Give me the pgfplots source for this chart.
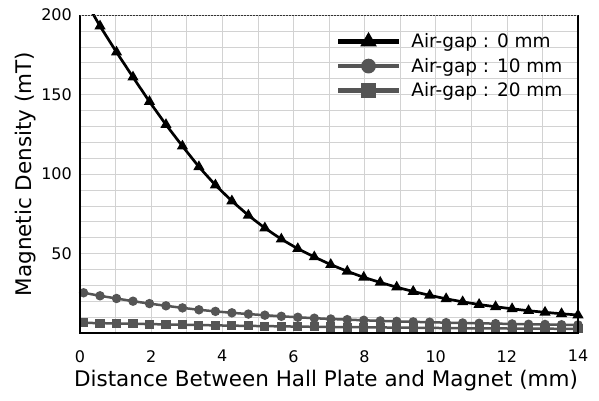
\documentclass[border=0pt]{standalone}
\usepackage{pgfplots}
\pgfplotsset{compat=1.18}
\usepackage{pgfplotstable}
\usepackage{fontspec}
\setmainfont{DejaVu Sans}
\definecolor{darkgr}{RGB}{85,85,85}
\pgfplotstableread{
x a b c
0.1 211 25.3 6.4
0.563 193 23.4 6.2
1.027 176.6 21.7 6.0
1.49 160.9 20.0 5.8
1.953 145.5 18.5 5.6
2.417 131 17.1 5.4
2.88 117.5 15.8 5.2
3.343 104.5 14.6 5.0
3.807 93 13.6 4.8
4.27 83 12.7 4.6
4.733 74 11.9 4.5
5.197 66 11.2 4.3
5.66 59 10.5 4.2
6.123 53 9.9 4.0
6.587 47.8 9.3 3.9
7.05 43 8.8 3.8
7.513 38.8 8.4 3.7
7.977 35 8.0 3.6
8.44 31.8 7.6 3.5
8.903 28.8 7.3 3.4
9.367 26.1 7.0 3.3
9.83 23.7 6.8 3.2
10.293 21.5 6.5 3.1
10.757 19.6 6.3 3.0
11.22 17.9 6.1 2.95
11.683 16.5 5.9 2.9
12.147 15.2 5.7 2.8
12.61 14.0 5.5 2.75
13.073 13.0 5.4 2.7
13.537 12.1 5.2 2.65
14 11.3 5.1 2.6
}\data
\begin{document}
\begin{tikzpicture}
\begin{axis}[
 scale only axis, width=498pt, height=318pt,
 xmin=0,xmax=14,ymin=0,ymax=200,
 xtick={0,2,...,14}, ytick={50,100,150,200},
 minor xtick={0,1,...,14}, minor ytick={0,10,...,200},
 grid=both, grid style={gray!35, line width=0.5pt}, major grid style={gray!35, line width=0.5pt},
 tick style={draw=none},
 axis line style={draw=none},
 /pgf/number format/assume math mode=true,
 ticklabel style={font=\fontsize{16}{16}\selectfont, inner sep=0pt},
 xticklabel style={yshift=-17pt},
 yticklabel style={xshift=-8pt},
 xlabel={Distance Between Hall Plate and Magnet (mm)},
 ylabel={Magnetic Density (mT)},
 label style={font=\fontsize{21.5}{21.5}\selectfont},
 xlabel style={at={(axis description cs:0.494,-0.151)},anchor=center},
 ylabel style={at={(axis description cs:-0.110,0.5)},anchor=center},
 legend style={at={(axis description cs:0.517,0.948)}, anchor=north west, draw=none, fill=none,
   font=\fontsize{18.5}{18.5}\selectfont, row sep=5pt, inner sep=0pt,
   /tikz/every odd column/.append style={column sep=10pt}},
 legend cell align=left,
 legend image code/.code={\fill[#1,mark=none] (0pt,-1.1pt) rectangle (59pt,1.1pt);
   \path[#1,/tikz/every mark/.append style={scale=1.8}] plot[mark repeat=2,mark phase=2] coordinates {(0pt,0pt)(29.5pt,0pt)(59pt,0pt)};},
]
\addplot[color=black, /tikz/line width=2.7pt, mark=triangle*, mark size=3.8pt] table[x=x,y=a]{\data};
\addlegendentry{Air-gap : 0 mm}
\addplot[color=darkgr, /tikz/line width=2.5pt, mark=*, mark size=3.4pt] table[x=x,y=b]{\data};
\addlegendentry{Air-gap : 10 mm}
\addplot[color=darkgr, /tikz/line width=2.5pt, mark=square*, mark size=3.3pt] table[x=x,y=c]{\data};
\addlegendentry{Air-gap : 20 mm}
\end{axis}
\draw[black, line width=1.5pt] (current axis.south west) -- (current axis.north west);
\draw[black, line width=1.5pt] (current axis.south east) -- (current axis.north east);
\draw[black, line width=2.6pt] ([xshift=-0.75pt]current axis.south west) -- ([xshift=0.75pt]current axis.south east);
\draw[black!80, line width=0.5pt, densely dotted] (current axis.north west) -- (current axis.north east);
\pgfresetboundingbox
\useasboundingbox ([shift={(-80pt,-68pt)}]current axis.south west) rectangle ([shift={(21pt,15pt)}]current axis.north east);
\end{tikzpicture}
\end{document}
